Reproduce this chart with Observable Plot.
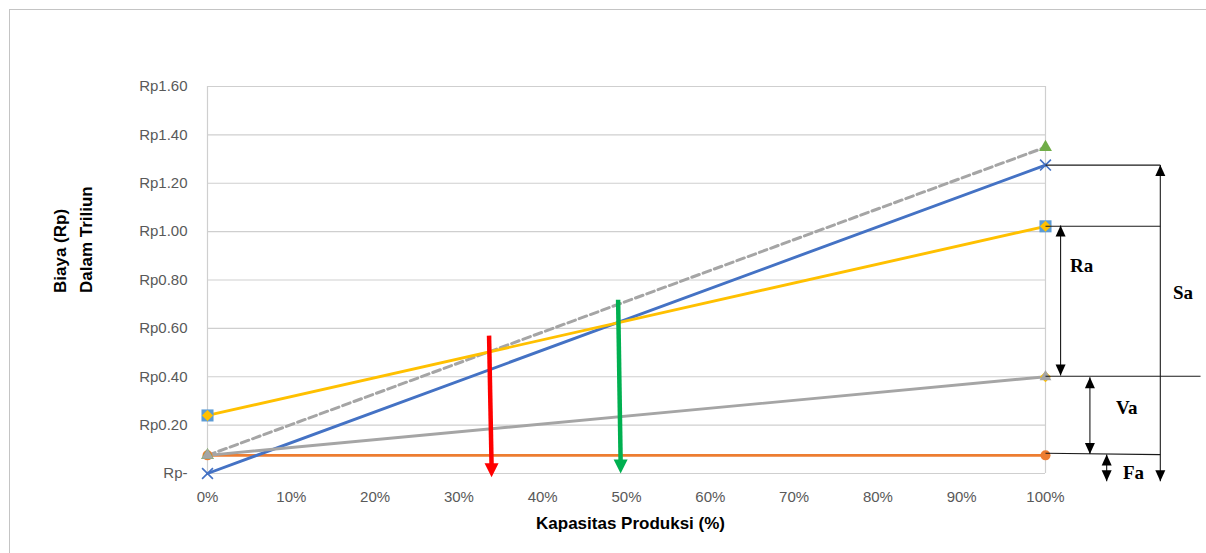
<!DOCTYPE html>
<html><head><meta charset="utf-8">
<script src="https://cdn.jsdelivr.net/npm/d3@7"></script>
<script src="https://cdn.jsdelivr.net/npm/@observablehq/plot@0.6"></script>
<style>
html,body{margin:0;padding:0;background:#fff;overflow:hidden;width:1206px;height:553px;}
#chart{position:absolute;left:0;top:0;}
#border{position:absolute;left:9px;top:9px;width:1300px;height:700px;border:1px solid #c4c4c4;box-sizing:border-box;pointer-events:none;}
</style></head><body>
<div id="border"></div>
<div id="chart"></div>
<script>
// ---- data ----
const capacity = [0, 100];                 // Kapasitas Produksi (%)
const penjualan = [0, 1.275];              // blue line, x markers
const biayaTotal = [0.075, 1.349];         // grey dashed line, green triangles
const garisKuning = [0.24, 1.022];         // yellow line, diamond on square
const biayaVariabel = [0.075, 0.40];       // grey solid line, grey triangles
const biayaTetap = [0.075, 0.075];         // orange line, circles

const xTicks = [0, 10, 20, 30, 40, 50, 60, 70, 80, 90, 100];
const yTicks = [0, 0.2, 0.4, 0.6, 0.8, 1.0, 1.2, 1.4, 1.6];

// red / green arrows
const arrowTopX = [33.6, 49.0];
const arrowTopY = [0.57, 0.718];
const arrowTipX = [33.9, 49.3];
const arrowTipY = [-0.015, 0.0];
const arrowColors = ["#FF0000", "#00B050"];

// dimension brackets on the right
const levelY1 = [1.275, 1.022, 0.402, 0.084];
const levelY2 = [1.275, 1.022, 0.402, 0.078];
const levelX2 = [113.7, 113.7, 118.5, 113.7];
const bracketX = [113.7, 101.8, 105.3, 107.3];
const bracketTop = [1.275, 1.025, 0.398, 0.079];
const bracketBottom = [-0.032, 0.405, 0.081, -0.032];
const bracketLabels = ["Sa", "Ra", "Va", "Fa"];
const labelX = [116.4, 104.3, 109.7, 110.5];
const labelY = [0.748, 0.86, 0.27, 0.004];

// ---- layout ----
const W = 1206, H = 553, mL = 207, mR = 161, mT = 86, mB = 80;
const pxPerUnit = (H - mT - mB) / 1.6;

const series = vals => capacity.map((c, i) => ({x: c, y: vals[i]}));
const makeHead = (dir, ratio) => ({
  draw(ctx, size) {
    const r = Math.sqrt(size / Math.PI);
    const h = ratio * r * dir;
    ctx.moveTo(0, 0); ctx.lineTo(-r, h); ctx.lineTo(r, h); ctx.closePath();
  }
});
const headDownBig = makeHead(-1, 2);
const headDown = makeHead(-1, 2.2);
const headUp = makeHead(1, 2.2);

const arrows = arrowTopX.map((x, i) => ({
  x1: x, y1: arrowTopY[i], x2: arrowTipX[i], y2: arrowTipY[i] + 11 / pxPerUnit,
  tx: arrowTipX[i], ty: arrowTipY[i], color: arrowColors[i]
}));
const levels = levelY1.map((y, i) => ({x1: 100, y1: y, x2: levelX2[i], y2: levelY2[i]}));
const brackets = bracketX.map((x, i) => ({x, top: bracketTop[i], bottom: bracketBottom[i]}));
const labels = bracketLabels.map((t, i) => ({t, x: labelX[i], y: labelY[i]}));

const ends = vals => series(vals);

const chart = Plot.plot({
  width: W, height: H,
  marginLeft: mL, marginRight: mR, marginTop: mT, marginBottom: mB,
  style: {fontFamily: "'Liberation Sans', Arial, sans-serif", fontSize: "15px", color: "#595959", background: "transparent", overflow: "visible"},
  x: {domain: [0, 100]},
  y: {domain: [0, 1.6]},
  marks: [
    Plot.gridY(yTicks, {stroke: "#cfcfcf", strokeOpacity: 1, strokeWidth: 1.2}),
    Plot.ruleX([0, 100], {y1: 0, y2: 1.6, stroke: "#cfcfcf", strokeWidth: 1.2}),
    Plot.axisY(yTicks, {tickSize: 0, tickPadding: 20, label: null,
      tickFormat: d => d === 0 ? "Rp-" : "Rp" + d.toFixed(2)}),
    Plot.axisX(xTicks, {tickSize: 0, tickPadding: 18, label: null, tickFormat: d => d + "%"}),

    // lines
    Plot.line(series(biayaTetap), {x: "x", y: "y", stroke: "#ED7D31", strokeWidth: 2.9}),
    Plot.line(series(penjualan), {x: "x", y: "y", stroke: "#4472C4", strokeWidth: 2.9}),
    Plot.line(series(biayaTotal), {x: "x", y: "y", stroke: "#A5A5A5", strokeWidth: 3, strokeDasharray: "8,4"}),
    Plot.line(series(garisKuning), {x: "x", y: "y", stroke: "#FFC000", strokeWidth: 2.9}),
    Plot.line(series(biayaVariabel), {x: "x", y: "y", stroke: "#A5A5A5", strokeWidth: 2.9}),

    // markers
    Plot.dot(ends(biayaTetap), {x: "x", y: "y", symbol: "circle", r: 5, fill: "#ED7D31", stroke: "none"}),
    Plot.dot(ends(biayaTotal), {x: "x", y: "y", symbol: "triangle", r: 4.8, fill: "#70AD47", stroke: "none"}),
    Plot.dot(ends(garisKuning), {x: "x", y: "y", symbol: "square", r: 6.8, fill: "#5B9BD5", stroke: "none"}),
    Plot.dot([...ends(garisKuning), ends(biayaVariabel)[1]], {x: "x", y: "y", symbol: "diamond2", r: 5, fill: "#FFC000", stroke: "none"}),
    Plot.dot(ends(biayaVariabel), {x: "x", y: "y", symbol: "triangle", r: 4.4, fill: "#A5A5A5", stroke: "none"}),
    Plot.dot(ends(penjualan), {x: "x", y: "y", symbol: "times", r: 5, stroke: "#4472C4", strokeWidth: 1.6}),

    // red / green arrows
    Plot.link(arrows, {x1: "x1", y1: "y1", x2: "x2", y2: "y2", stroke: "color", strokeWidth: 4.5}),
    Plot.dot(arrows, {x: "tx", y: "ty", symbol: headDownBig, r: 7, fill: "color", stroke: "none"}),

    // brackets
    Plot.link(levels, {x1: "x1", y1: "y1", x2: "x2", y2: "y2", stroke: "#1a1a1a", strokeWidth: 1.1}),
    Plot.link(brackets, {x1: "x", x2: "x", y1: "top", y2: "bottom", stroke: "#1a1a1a", strokeWidth: 1.1}),
    Plot.dot(brackets, {x: "x", y: "top", symbol: headUp, r: 5, fill: "#000", stroke: "none"}),
    Plot.dot(brackets, {x: "x", y: "bottom", symbol: headDown, r: 5, fill: "#000", stroke: "none"}),
    Plot.text(labels, {x: "x", y: "y", text: "t", fontFamily: "'Liberation Serif', 'Times New Roman', serif",
      fontWeight: "bold", fontSize: 19, fill: "#000"}),

    // axis titles
    Plot.text(["Kapasitas Produksi (%)"], {frameAnchor: "bottom", dx: 4, dy: 55, fontWeight: "bold", fontSize: 17, fill: "#000"}),
    Plot.text(["Biaya (Rp)\nDalam Triliun"], {frameAnchor: "left", rotate: -90, dx: -136.5, dy: 13, lineHeight: 1.5,
      fontWeight: "bold", fontSize: 17, fill: "#000"})
  ]
});
document.getElementById("chart").appendChild(chart);
</script>
</body></html>
